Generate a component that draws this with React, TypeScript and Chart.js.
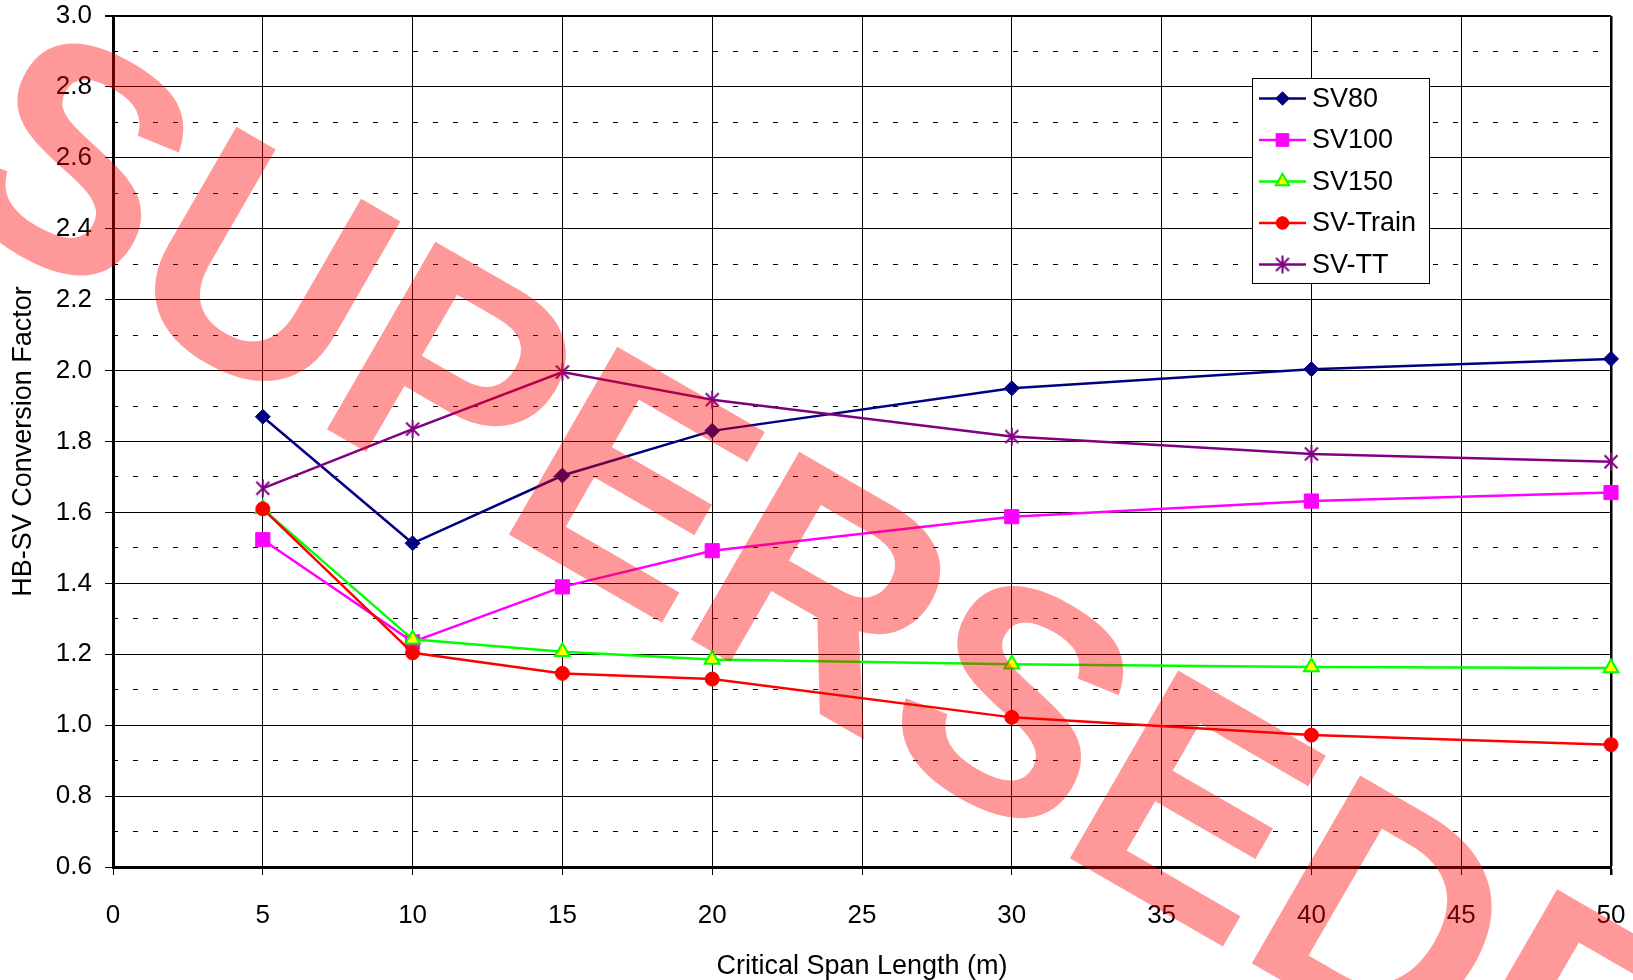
import React, { useEffect, useRef } from 'react';
import { Chart, registerables } from 'chart.js';
import { drawPoint } from 'chart.js/helpers';

Chart.register(...registerables);

// ---- Data ----
const spanLengths = [5, 10, 15, 20, 30, 40, 50];
const sv80 = [1.87, 1.513, 1.704, 1.83, 1.95, 2.004, 2.033];
const sv100 = [1.523, 1.235, 1.39, 1.492, 1.588, 1.632, 1.656];
const sv150 = [1.61, 1.242, 1.207, 1.185, 1.172, 1.164, 1.161];
const svTrain = [1.61, 1.204, 1.146, 1.13, 1.022, 0.972, 0.945];
const svTT = [1.668, 1.835, 1.996, 1.918, 1.814, 1.765, 1.743];
const seriesNames = ['SV80', 'SV100', 'SV150', 'SV-Train', 'SV-TT'];
const yMinorTicks = [0.7, 0.9, 1.1, 1.3, 1.5, 1.7, 1.9, 2.1, 2.3, 2.5, 2.7, 2.9];
const xTitle = 'Critical Span Length (m)';
const yTitle = 'HB-SV Conversion Factor';
const watermarkText = 'SUPERSEDED';

const FAMILY = "'Liberation Sans', Arial, sans-serif";

function makeStar(color: string) {
  const c = document.createElement('canvas');
  c.width = 20;
  c.height = 20;
  const g = c.getContext('2d')!;
  g.strokeStyle = color;
  g.lineWidth = 2;
  g.beginPath();
  g.moveTo(3.5, 3.5);
  g.lineTo(16.5, 16.5);
  g.moveTo(16.5, 3.5);
  g.lineTo(3.5, 16.5);
  g.moveTo(10, 1);
  g.lineTo(10, 19);
  g.stroke();
  return c;
}

export default function App() {
  const ref = useRef<HTMLCanvasElement | null>(null);

  useEffect(() => {
    if (!ref.current) return;
    const star = makeStar('#800080');
    const seriesValues = [sv80, sv100, sv150, svTrain, svTT];
    const styles = [
      { color: '#000080', fill: '#000080', pointStyle: 'rectRot', radius: 7.5, bw: 1 },
      { color: '#FF00FF', fill: '#FF00FF', pointStyle: 'rect', radius: 10, bw: 1 },
      { color: '#00FF00', fill: '#FFFF00', pointStyle: 'triangle', radius: 8.5, bw: 2 },
      { color: '#FF0000', fill: '#FF0000', pointStyle: 'circle', radius: 7, bw: 1 },
      { color: '#800080', fill: '#800080', pointStyle: star as any, radius: 9, bw: 1 },
    ];

    const datasets = seriesNames.map((name, i) => ({
      label: name,
      data: spanLengths.map((x, j) => ({ x, y: seriesValues[i][j] })),
      borderColor: styles[i].color,
      backgroundColor: styles[i].fill,
      pointBackgroundColor: styles[i].fill,
      pointBorderColor: styles[i].color,
      pointBorderWidth: styles[i].bw,
      pointStyle: styles[i].pointStyle,
      pointRadius: styles[i].radius,
      borderWidth: 2.5,
      tension: 0,
      showLine: true,
      clip: false as any,
      order: seriesNames.length - 1 - i,
    }));

    const legendPlugin = {
      id: 'customLegend',
      afterDraw(chart: any) {
        const ctx = chart.ctx;
        ctx.save();
        const bx = 1252, by = 78, bw = 177, bh = 205;
        ctx.fillStyle = '#fff';
        ctx.fillRect(bx, by, bw, bh);
        ctx.strokeStyle = '#000';
        ctx.lineWidth = 1;
        ctx.strokeRect(bx + 0.5, by + 0.5, bw, bh);
        seriesNames.forEach((name, i) => {
          const y = 98.5 + i * 41.5;
          const st = styles[i];
          ctx.strokeStyle = st.color;
          ctx.lineWidth = 2.5;
          ctx.beginPath();
          ctx.moveTo(1259, y);
          ctx.lineTo(1306, y);
          ctx.stroke();
          ctx.fillStyle = st.fill;
          ctx.strokeStyle = st.color;
          ctx.lineWidth = st.bw;
          drawPoint(ctx, { pointStyle: st.pointStyle, radius: st.radius * 0.9, rotation: 0, borderWidth: st.bw } as any, 1282.5, y);
          ctx.fillStyle = '#000';
          ctx.font = `27px ${FAMILY}`;
          ctx.textAlign = 'left';
          ctx.textBaseline = 'middle';
          ctx.fillText(name, 1312, y + 1);
        });
        ctx.restore();
      },
    };

    const watermarkPlugin = {
      id: 'watermark',
      afterDraw(chart: any) {
        const ctx = chart.ctx;
        ctx.save();
        ctx.translate(926, 645);
        ctx.rotate((30 * Math.PI) / 180);
        ctx.font = `bold 315px ${FAMILY}`;
        ctx.fillStyle = 'rgba(255,0,0,0.4)';
        ctx.textAlign = 'center';
        ctx.textBaseline = 'alphabetic';
        ctx.fillText(watermarkText, 0, 0.358 * 315);
        ctx.restore();
      },
    };

    const chart = new Chart(ref.current, {
      type: 'line',
      data: { datasets: datasets as any },
      options: {
        animation: false,
        responsive: true,
        maintainAspectRatio: false,
        layout: { padding: { top: 16, right: 22, left: 0, bottom: 0 } },
        plugins: {
          legend: { display: false },
          tooltip: { enabled: false },
        },
        scales: {
          x: {
            type: 'linear',
            min: 0,
            max: 50,
            afterFit: (s: any) => {
              s.height = 113;
              s.paddingLeft = 0;
              s.paddingRight = 0;
            },
            ticks: {
              stepSize: 5,
              padding: 25,
              color: '#000',
              font: { size: 26, family: FAMILY },
              maxRotation: 0,
              autoSkip: false,
            },
            grid: {
              color: '#000',
              lineWidth: (c: any) => (c.tick && c.tick.value === 50 ? 2.5 : 1),
              tickLength: 8,
            },
            border: { color: '#000', width: 3 },
            title: {
              display: true,
              text: xTitle,
              color: '#000',
              font: { size: 27, family: FAMILY },
              padding: { top: 0, bottom: -3 },
            },
          },
          y: {
            type: 'linear',
            position: 'left',
            min: 0.6,
            max: 3.0,
            afterFit: (s: any) => {
              s.width = 113;
              s.paddingTop = 0;
              s.paddingBottom = 0;
            },
            ticks: {
              stepSize: 0.2,
              padding: 13,
              color: '#000',
              font: { size: 26, family: FAMILY },
              callback: (v: any) => Number(v).toFixed(1),
            },
            grid: {
              color: '#000',
              lineWidth: (c: any) => (c.tick && Math.abs(c.tick.value - 3.0) < 1e-6 ? 2 : 1),
              tickLength: 8,
            },
            border: { color: '#000', width: 3 },
            title: {
              display: true,
              text: yTitle,
              color: '#000',
              font: { size: 27, family: FAMILY },
              padding: { top: 7, bottom: 0 },
            },
          },
          yMinor: {
            type: 'linear',
            position: 'left',
            min: 0.6,
            max: 3.0,
            afterFit: (s: any) => {
              s.width = 0;
              s.paddingTop = 0;
              s.paddingBottom = 0;
            },
            afterBuildTicks: (s: any) => {
              s.ticks = yMinorTicks.map((v) => ({ value: v }));
            },
            ticks: { display: false },
            grid: { color: '#000', lineWidth: 1, drawTicks: false },
            border: { display: false, dash: [5, 15] },
          },
        },
      } as any,
      plugins: [legendPlugin, watermarkPlugin],
    });
    return () => chart.destroy();
  }, []);

  return (
    <div style={{ position: 'fixed', left: 0, top: 0, width: 1633, height: 980, background: '#fff' }}>
      <canvas ref={ref} />
    </div>
  );
}
